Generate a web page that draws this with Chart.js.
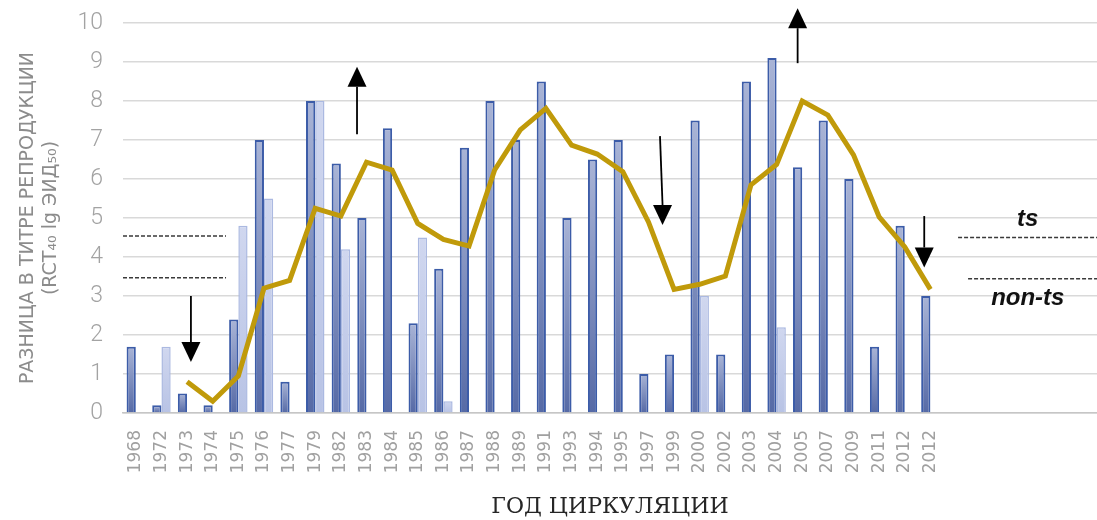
<!DOCTYPE html>
<html>
<head>
<meta charset="utf-8">
<script src="https://cdn.jsdelivr.net/npm/chart.js@4"></script>
<style>
  html, body { margin: 0; padding: 0; background: #fff; }
  #wrap { width: 1097px; height: 520px; position: relative; }
</style>
</head>
<body>
<div id="wrap"><canvas id="titerChart"></canvas></div>
<script>
// Годы циркуляции (в конце пустые категории, как в оригинале)
const categories = ['1968', '1972', '1973', '1974', '1975', '1976', '1977', '1979', '1982', '1983',
  '1984', '1985', '1986', '1987', '1988', '1989', '1991', '1993', '1994', '1995', '1997', '1999',
  '2000', '2002', '2003', '2004', '2005', '2007', '2009', '2011', '2012', '2012',
  '', '', '', '', '', ''];

// Тёмные столбцы
const darkValues = [1.7, 0.2, 0.5, 0.2, 2.4, 7.0, 0.8, 8.0, 6.4, 5.0, 7.3, 2.3, 3.7, 6.8, 8.0, 7.0,
  8.5, 5.0, 6.5, 7.0, 1.0, 1.5, 7.5, 1.5, 8.5, 9.1, 6.3, 7.5, 6.0, 1.7, 4.8, 3.0];

// Светлые столбцы
const lightValues = [null, 1.7, null, null, 4.8, 5.5, null, 8.0, 4.2, null, null, 4.5, 0.3, null,
  null, null, null, null, null, null, null, null, 3.0, null, null, 2.2, null, null, null, null,
  null, null];

// Скользящая линия
const lineValues = [null, null, 0.8, 0.3, 0.95, 3.2, 3.4, 5.25, 5.05, 6.43, 6.23, 4.86, 4.45, 4.28,
  6.23, 7.26, 7.81, 6.87, 6.64, 6.19, 4.9, 3.17, 3.3, 3.51, 5.85, 6.37, 8.0, 7.64, 6.62, 5.03,
  4.26, 3.17];

const yTicks = [0, 10, 1]; // min, max, шаг

// Стрелки и пунктир (индекс категории, значение по оси Y)
const arrowMarks = [
  { x0: 2.15, x1: 2.15, from: 3.0, to: 1.31 },
  { x0: 8.63, x1: 8.63, from: 7.15, to: 8.88 },
  { x0: 20.45, x1: 20.55, from: 7.1, to: 4.82 },
  { x0: 25.82, x1: 25.82, from: 8.97, to: 10.38 },
  { x0: 30.76, x1: 30.76, from: 5.05, to: 3.73 }
];
const dashMarks = [
  { from: null, to: 3.52, level: 4.54 },
  { from: null, to: 3.52, level: 3.47 },
  { from: 32.08, to: null, level: 4.5 },
  { from: 32.47, to: null, level: 3.44 }
];
const textMarks = [
  { text: 'ts', at: 34.8, level: 4.97 },
  { text: 'non-ts', at: 34.8, level: 2.95 }
];

function barGradient(topColor, bottomColor) {
  return function (context) {
    const chart = context.chart;
    const v = context.raw;
    if (!chart.chartArea || !chart.scales.y || v == null) return bottomColor;
    const y0 = chart.scales.y.getPixelForValue(v);
    const y1 = chart.scales.y.getPixelForValue(0);
    if (!isFinite(y0) || y1 - y0 < 1) return bottomColor;
    const g = chart.ctx.createLinearGradient(0, y0, 0, y1);
    g.addColorStop(0, topColor);
    g.addColorStop(1, bottomColor);
    return g;
  };
}

const marksPlugin = {
  id: 'marks',
  afterDatasetsDraw(chart) {
    const { ctx, chartArea } = chart;
    const x = chart.scales.x, y = chart.scales.y;
    ctx.save();

    // пунктирные уровни
    ctx.strokeStyle = '#3a3a3a';
    ctx.lineWidth = 1.5;
    ctx.setLineDash([4, 2]);
    dashMarks.forEach(d => {
      const xa = d.from == null ? chartArea.left : x.getPixelForValue(d.from);
      const xb = d.to == null ? chartArea.right : x.getPixelForValue(d.to);
      const yy = y.getPixelForValue(d.level);
      ctx.beginPath();
      ctx.moveTo(xa, yy);
      ctx.lineTo(xb, yy);
      ctx.stroke();
    });
    ctx.setLineDash([]);

    // стрелки
    ctx.strokeStyle = '#000';
    ctx.fillStyle = '#000';
    arrowMarks.forEach(a => {
      const xa = x.getPixelForValue(a.x0), xb = x.getPixelForValue(a.x1);
      const ya = y.getPixelForValue(a.from), yb = y.getPixelForValue(a.to);
      const dir = yb > ya ? 1 : -1;
      const head = 20;
      ctx.lineWidth = 1.8;
      ctx.beginPath();
      ctx.moveTo(xa, ya);
      ctx.lineTo(xb, yb - dir * head);
      ctx.stroke();
      ctx.beginPath();
      ctx.moveTo(xb - 9.5, yb - dir * head);
      ctx.lineTo(xb + 9.5, yb - dir * head);
      ctx.lineTo(xb, yb);
      ctx.closePath();
      ctx.fill();
    });

    // подписи ts / non-ts
    ctx.font = 'italic bold 24px "Liberation Sans", Arial, sans-serif';
    ctx.textAlign = 'center';
    ctx.textBaseline = 'middle';
    ctx.fillStyle = '#111';
    textMarks.forEach(t => {
      ctx.fillText(t.text, x.getPixelForValue(t.at), y.getPixelForValue(t.level));
    });
    ctx.restore();
  }
};

const ctx = document.getElementById('titerChart').getContext('2d');
const titerChart = new Chart(ctx, {
  data: {
    labels: categories,
    datasets: [
      {
        type: 'line',
        data: lineValues,
        borderColor: '#c09a0a',
        borderWidth: 5,
        pointRadius: 0,
        tension: 0,
        spanGaps: false,
        order: 0
      },
      {
        type: 'bar',
        data: darkValues,
        backgroundColor: barGradient('#a9b4d6', '#566aa6'),
        borderColor: '#3c5ca8',
        borderWidth: 2,
        categoryPercentage: 0.72,
        barPercentage: 1.0,
        order: 1
      },
      {
        type: 'bar',
        data: lightValues,
        backgroundColor: barGradient('#d0d7ef', '#b8c3e5'),
        borderColor: '#abb9e1',
        borderWidth: 1.5,
        categoryPercentage: 0.72,
        barPercentage: 1.0,
        order: 1
      }
    ]
  },
  options: {
    responsive: true,
    maintainAspectRatio: false,
    animation: false,
    layout: { padding: { top: 23, right: 0, bottom: 0, left: 0 } },
    plugins: {
      legend: { display: false },
      tooltip: { enabled: false }
    },
    scales: {
      x: {
        offset: true,
        grid: { display: false, drawTicks: false },
        border: { display: true, color: '#c6c6c6', width: 1.5 },
        ticks: {
          autoSkip: false,
          minRotation: 90,
          maxRotation: 90,
          padding: 17,
          color: '#a0a0a0',
          font: { family: '"DejaVu Sans", sans-serif', size: 17 }
        },
        title: {
          display: true,
          text: 'ГОД ЦИРКУЛЯЦИИ',
          color: '#262626',
          padding: { top: 0, bottom: 0 },
          font: { family: '"DejaVu Serif", serif', size: 22 }
        },
        afterFit(scale) {
          scale.height = 107;
          scale.paddingLeft = 0;
          scale.paddingRight = 0;
        }
      },
      y: {
        min: yTicks[0],
        max: yTicks[1],
        grid: { color: '#d9d9d9', lineWidth: 1.5, drawTicks: false },
        border: { display: false },
        ticks: {
          stepSize: yTicks[2],
          padding: 20,
          color: '#a3a3a3',
          font: { family: 'Roboto, sans-serif', size: 23, weight: 300 }
        },
        title: {
          display: true,
          text: ['РАЗНИЦА В ТИТРЕ РЕПРОДУКЦИИ', '(RCT₄₀ lg ЭИД₅₀)'],
          color: '#8c8c8c',
          padding: { top: 17, bottom: 0 },
          font: { family: '"DejaVu Sans", sans-serif', size: 19 }
        },
        afterFit(scale) {
          scale.width = 123;
          scale.paddingTop = 0;
          scale.paddingBottom = 0;
        }
      }
    }
  },
  plugins: [marksPlugin]
});
</script>
</body>
</html>
